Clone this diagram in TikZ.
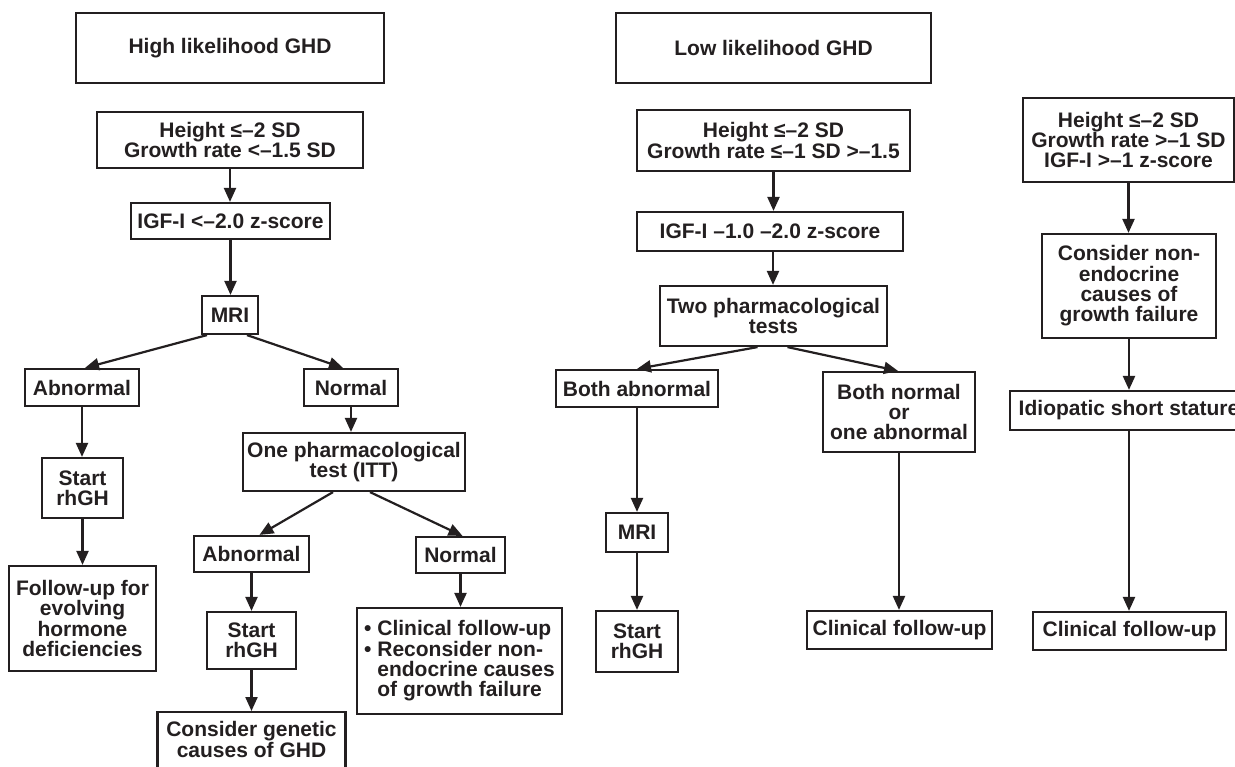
\documentclass[tikz,border=0pt]{standalone}
\usepackage{fontspec}
\setmainfont{Liberation Sans}
\usetikzlibrary{arrows.meta}
\definecolor{ink}{HTML}{231F20}
\begin{document}
\begin{tikzpicture}[x=1pt,y=-1pt,
  txt/.style={inner sep=0pt, align=center, font=\fontsize{21}{20.3}\selectfont\bfseries, text=ink},
  box/.style={txt, draw=ink, line width=2.2pt},
  arr/.style={draw=ink, line width=2.2pt, -{Triangle[length=14pt,width=12pt]}},
]
\useasboundingbox (0,0) rectangle (1235,767);
\fill[white] (0,0) rectangle (1235,767);

% ---- High likelihood column
\node[box, minimum width=308pt, minimum height=70pt] (hi) at (230,48) {High likelihood GHD};
\node[box, minimum width=266pt, minimum height=56pt] (h1) at (230,140) {Height ≤–2 SD\\Growth rate <–1.5 SD};
\node[box, minimum width=199pt, minimum height=36pt] (igf1) at (230.5,221) {IGF-I <–2.0 z-score};
\node[box, minimum width=56pt, minimum height=38pt] (mri1) at (230,315) {MRI};
\node[box, minimum width=114pt, minimum height=37pt] (ab1) at (82,387.5) {Abnormal};
\node[box, minimum width=94pt, minimum height=37pt] (no1) at (351,387.5) {Normal};
\node[box, minimum width=81pt, minimum height=60pt] (st1) at (82.5,488) {Start\\rhGH};
\node[box, minimum width=147pt, minimum height=105pt] (fu1) at (82.5,618.5) {Follow-up for\\evolving\\hormone\\deficiencies};
\node[box, minimum width=222pt, minimum height=58pt] (one) at (354,462) {One pharmacological\\test (ITT)};
\node[box, minimum width=115pt, minimum height=36pt] (ab2) at (251.5,554) {Abnormal};
\node[box, minimum width=89pt, minimum height=36pt] (no2) at (460.5,555) {Normal};
\node[box, minimum width=89pt, minimum height=57pt] (st2) at (251.5,640.5) {Start\\rhGH};
\node[box, minimum width=188pt, minimum height=70pt, anchor=north] (gen) at (251.5,711) {};
\node[txt] (gentext) at (251.5,739.5) {Consider genetic\\causes of GHD};
\node[box, minimum width=205pt, minimum height=106pt, align=left] (cl1) at (459.5,661) {• Clinical follow-up\\• Reconsider non-\\\phantom{• }endocrine causes\\\phantom{• }of growth failure};

\draw[arr] (h1.south) -- (h1.south |- igf1.north);
\draw[arr] (igf1.south) -- (igf1.south |- mri1.north);
\draw[arr] ([xshift=-23pt]mri1.south) -- ([xshift=3pt]ab1.north);
\draw[arr] ([xshift=17pt]mri1.south) -- ([xshift=-8pt]no1.north);
\draw[arr] (ab1.south) -- (ab1.south |- st1.north);
\draw[arr] (st1.south) -- (st1.south |- fu1.north);
\draw[arr] (no1.south) -- (no1.south |- one.north);
\draw[arr] ([xshift=-21pt]one.south) -- ([xshift=8pt]ab2.north);
\draw[arr] ([xshift=16pt]one.south) -- ([xshift=2pt]no2.north);
\draw[arr] (ab2.south) -- (ab2.south |- st2.north);
\draw[arr] (st2.south) -- (st2.south |- gen.north);
\draw[arr] (no2.south) -- (no2.south |- cl1.north);

% ---- Low likelihood column
\node[box, minimum width=315pt, minimum height=70pt] (lo) at (773.5,48) {Low likelihood GHD};
\node[box, minimum width=273pt, minimum height=61pt] (h2) at (773.5,140.5) {Height ≤–2 SD\\Growth rate ≤–1 SD >–1.5};
\node[box, minimum width=266pt, minimum height=39pt] (igf2) at (770,231.5) {IGF-I –1.0 –2.0 z-score};
\node[box, minimum width=227pt, minimum height=60pt] (two) at (773.5,316) {Two pharmacological\\tests};
\node[box, minimum width=162pt, minimum height=37pt] (ba) at (637,388.5) {Both abnormal};
\node[box, minimum width=152pt, minimum height=80pt] (bn) at (899,412) {Both normal\\or\\one abnormal};
\node[box, minimum width=62pt, minimum height=39pt] (mri2) at (637,532.5) {MRI};
\node[box, minimum width=82pt, minimum height=61pt] (st3) at (637,641.5) {Start\\rhGH};
\node[box, minimum width=185pt, minimum height=38pt] (cl2) at (899.5,630) {Clinical follow-up};

\draw[arr] (h2.south) -- (h2.south |- igf2.north);
\draw[arr] ([xshift=3pt]igf2.south) -- ([xshift=3pt]igf2.south |- two.north);
\draw[arr] ([xshift=-16pt]two.south) -- (ba.north);
\draw[arr] ([xshift=14pt]two.south) -- ([xshift=-1pt]bn.north);
\draw[arr] (ba.south) -- (ba.south |- mri2.north);
\draw[arr] (mri2.south) -- (mri2.south |- st3.north);
\draw[arr] (bn.south) -- (bn.south |- cl2.north);

% ---- Right column
\node[box, minimum width=211pt, minimum height=84pt] (h3) at (1128.5,140) {Height ≤–2 SD\\Growth rate >–1 SD\\IGF-I >–1 z-score};
\node[box, minimum width=174pt, minimum height=104pt] (cne) at (1129,286) {Consider non-\\endocrine\\causes of\\growth failure};
\node[box, minimum width=238pt, minimum height=39pt] (idio) at (1129,410.5) {Idiopatic short stature};
\node[box, minimum width=193pt, minimum height=38pt] (cl3) at (1129.5,631) {Clinical follow-up};

\draw[arr] (h3.south) -- (h3.south |- cne.north);
\draw[arr] (cne.south) -- (cne.south |- idio.north);
\draw[arr] (idio.south) -- (idio.south |- cl3.north);
\end{tikzpicture}
\end{document}
